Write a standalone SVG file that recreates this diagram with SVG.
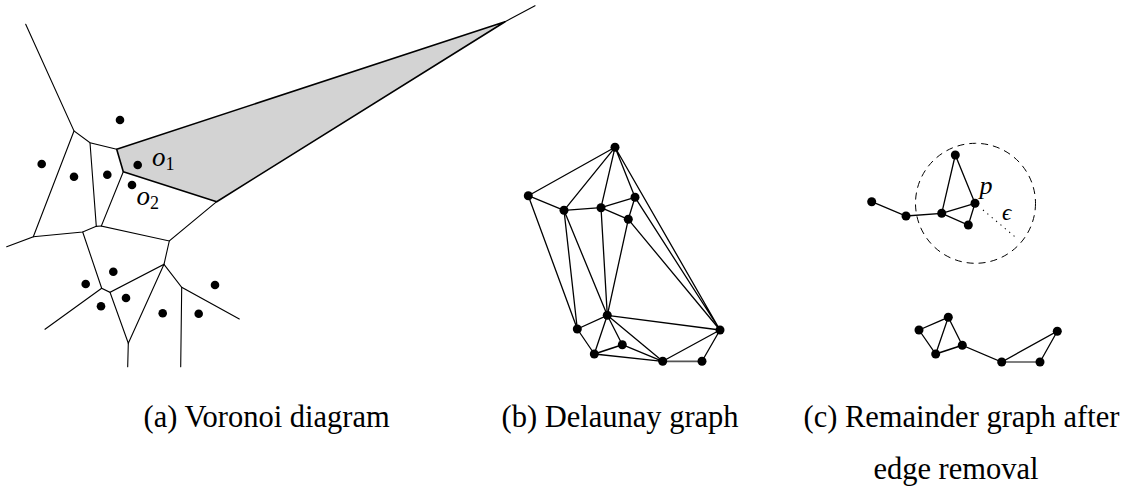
<svg xmlns="http://www.w3.org/2000/svg" width="1140" height="496" viewBox="0 0 1140 496">
<style>
.e{stroke:#000;stroke-width:1.1;fill:none;stroke-linecap:round}
.g{stroke:#000;stroke-width:1.3;fill:none;stroke-linecap:round}
.b{stroke:#000;stroke-width:1.7;fill:none;stroke-linejoin:round}
.d{fill:#000}
text{font-family:'Liberation Serif','Times New Roman',Tinos,serif;fill:#000}
.cap{font-size:30.5px}
.m{font-style:italic}
</style>
<rect width="1140" height="496" fill="#fff"/>
<!-- (a) Voronoi -->
<g id="voronoi">
<polygon points="116.7,149.3 505,21.7 216.7,201.7 123.3,171.7" style="fill:#d3d3d3;stroke:#000;stroke-width:1.6;stroke-linejoin:round"/>
<g id="voronoi-edges" class="e">
<path d="M25.7,24.3L74,131L90,142.7L116.7,149.3"/>
<path d="M74,131L33.3,236.7L6.7,246.7"/>
<path d="M90,142.7L96.3,226.3L101.3,226"/>
<path d="M123.3,171.7L101.3,226L169.3,241L216.7,201.7"/>
<path d="M33.3,236.7L82.7,232L96.3,226.3"/>
<path d="M82.7,232L101.7,288.3L110,292.3L164,264.3L169.3,241"/>
<path d="M101.7,288.3L45,329.3"/>
<path d="M110,292.3L128.3,343.3L164,264.3"/>
<path d="M128.3,343.3L127.7,366.7"/>
<path d="M164,264.3L181.7,287.3L239.3,319"/>
<path d="M181.7,287.3L180.7,366.7"/>
<path d="M505,21.7L535,5.7"/>
</g>
<g id="voronoi-sites" class="d">
<circle cx="120" cy="120" r="4.3"/>
<circle cx="41.7" cy="164" r="4.3"/>
<circle cx="74" cy="176.7" r="4.3"/>
<circle cx="107.3" cy="174.7" r="4.3"/>
<circle cx="137.7" cy="165" r="4.3"/>
<circle cx="132" cy="185" r="4.3"/>
<circle cx="113.3" cy="271.7" r="4.3"/>
<circle cx="85.7" cy="284" r="4.3"/>
<circle cx="126" cy="298" r="4.3"/>
<circle cx="101" cy="306.3" r="4.3"/>
<circle cx="162.7" cy="313.3" r="4.3"/>
<circle cx="198.7" cy="313.7" r="4.3"/>
<circle cx="215" cy="285" r="4.3"/>
</g>
<text x="152" y="166" class="m" font-size="27">o<tspan font-style="normal" font-size="18" dy="3.5">1</tspan></text>
<text x="136.5" y="205" class="m" font-size="27">o<tspan font-style="normal" font-size="18" dy="4">2</tspan></text>
</g>
<!-- (b) Delaunay -->
<g id="delaunay">
<g id="delaunay-edges" class="g">
<path d="M615,147.3L528.3,195.7M615,147.3L564,210.3M615,147.3L601,207.7M615,147.3L635,197.3M615,147.3L720,330M635,197.3L720,330"/>
<path d="M528.3,195.7L564,210.3M528.3,195.7L577.3,329"/>
<path d="M564,210.3L601,207.7M564,210.3L577.3,329M564,210.3L607.3,315.3"/>
<path d="M601,207.7L635,197.3M601,207.7L628.3,219.3M601,207.7L607.3,315.3"/>
<path d="M635,197.3L628.3,219.3M628.3,219.3L607.3,315.3M628.3,219.3L720,330"/>
<path d="M607.3,315.3L577.3,329M607.3,315.3L720,330M607.3,315.3L594.3,354M607.3,315.3L622.3,344.7M607.3,315.3L662.7,361.3"/>
<path d="M577.3,329L594.3,354M594.3,354L662.7,361.3M622.3,344.7L662.7,361.3"/>
<path d="M662.7,361.3L720,330M702,361.3L720,330"/>
</g>
<path class="b" d="M594.3,354L622.3,344.7"/>
<path d="M662.7,361.3L702,361.3" stroke="#555" stroke-width="1.7"/>
<g id="delaunay-nodes" class="d">
<circle cx="615" cy="147.3" r="4.5"/>
<circle cx="528.3" cy="195.7" r="4.5"/>
<circle cx="564" cy="210.3" r="4.5"/>
<circle cx="601" cy="207.7" r="4.5"/>
<circle cx="635" cy="197.3" r="4.5"/>
<circle cx="628.3" cy="219.3" r="4.5"/>
<circle cx="607.3" cy="315.3" r="4.5"/>
<circle cx="577.3" cy="329" r="4.5"/>
<circle cx="720" cy="330" r="4.5"/>
<circle cx="622.3" cy="344.7" r="4.5"/>
<circle cx="594.3" cy="354" r="4.5"/>
<circle cx="662.7" cy="361.3" r="4.5"/>
<circle cx="702" cy="361.3" r="4.5"/>
</g>
</g>
<!-- (c) Remainder -->
<g id="remainder">
<circle cx="975.5" cy="203.3" r="60" fill="none" stroke="#000" stroke-width="1" stroke-dasharray="7,5"/>
<path d="M983,210L1017,238.5" stroke="#000" stroke-width="1.1" stroke-dasharray="1.2,4.5" fill="none"/>
<g id="remainder-edges" class="g">
<path d="M871.7,201.7L906,216L941.7,213.3L955.3,155L975,203.3L968.3,225L941.7,213.3L975,203.3"/>
<path d="M919,330L948.3,317.3L935.7,354L919,330M948.3,317.3L962.3,345.3L1001.7,362L1057.3,331.3L1040,362"/>
</g>
<path class="b" d="M935.7,354L962.3,345.3"/>
<path d="M1001.7,362L1040,362" stroke="#555" stroke-width="1.7"/>
<g id="remainder-nodes" class="d">
<circle cx="871.7" cy="201.7" r="4.5"/>
<circle cx="906" cy="216" r="4.5"/>
<circle cx="941.7" cy="213.3" r="4.5"/>
<circle cx="955.3" cy="155" r="4.5"/>
<circle cx="975" cy="203.3" r="4.5"/>
<circle cx="968.3" cy="225" r="4.5"/>
<circle cx="919" cy="330" r="4.5"/>
<circle cx="948.3" cy="317.3" r="4.5"/>
<circle cx="935.7" cy="354" r="4.5"/>
<circle cx="962.3" cy="345.3" r="4.5"/>
<circle cx="1001.7" cy="362" r="4.5"/>
<circle cx="1040" cy="362" r="4.5"/>
<circle cx="1057.3" cy="331.3" r="4.5"/>
</g>
<text x="979.5" y="194" class="m" font-size="26">p</text>
<text x="1002" y="220" class="m" font-size="23">ϵ</text>
</g>
<!-- captions -->
<g id="captions">
<text x="143.5" y="427" class="cap">(a) Voronoi diagram</text>
<text x="501.5" y="427" class="cap">(b) Delaunay graph</text>
<text x="803.5" y="427" class="cap">(c) Remainder graph after</text>
<text x="956" y="478.5" class="cap" text-anchor="middle">edge removal</text>
</g>
</svg>
